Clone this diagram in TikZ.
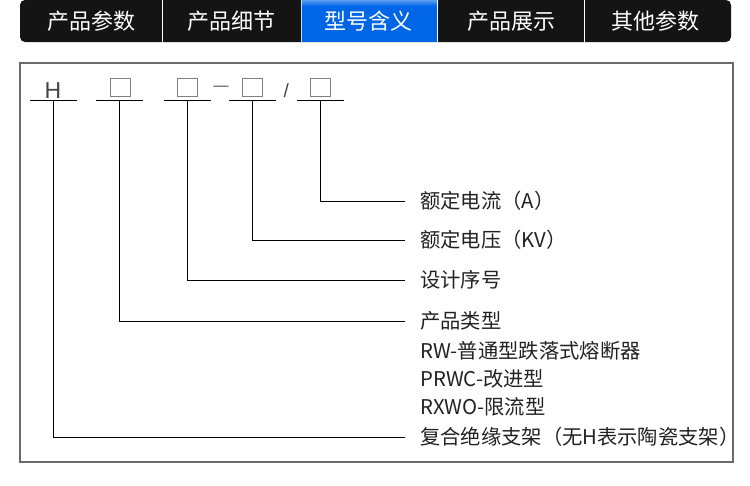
\documentclass[tikz,border=0pt]{standalone}
\usepackage{fontspec}
\setmainfont{Noto Sans CJK SC}
\newfontfamily\latinsans{Liberation Sans}
\definecolor{tabdark}{HTML}{141414}
\definecolor{tabblue}{HTML}{0066E6}
\definecolor{tabbluelight}{HTML}{5A9CF2}
\definecolor{framegray}{HTML}{6A6A6A}
\definecolor{boxgray}{HTML}{808080}
\definecolor{symgray}{HTML}{444444}
\definecolor{labeltext}{HTML}{222222}
\begin{document}
\begin{tikzpicture}[x=1pt,y=-1pt,
  tabtext/.style={text=white, font=\fontsize{22}{26}\selectfont, inner sep=0pt},
  slotbox/.style={draw=boxgray, line width=0.9pt, minimum width=20pt, minimum height=18.5pt, inner sep=0pt},
  segline/.style={minimum width=47pt, minimum height=0pt, inner sep=0pt, outer sep=0pt},
  uline/.style={black, line width=1pt},
  conn/.style={black, line width=1pt},
  lbl/.style={anchor=west, inner xsep=15pt, inner ysep=0pt, text=labeltext,
    font=\fontsize{20.3}{24}\selectfont, text height=16.4pt, text depth=1pt},
  symtext/.style={text=symgray, inner sep=0pt, anchor=base}
]
\useasboundingbox (0,0) rectangle (750,485);
\fill[white] (0,0) rectangle (750,485);

% tab bar
\fill[tabdark, rounded corners=5pt] (20,0) rectangle (731,42);
\fill[tabblue] (301,0) rectangle (438,42);
\shade[top color=tabbluelight, bottom color=tabblue] (301,0) rectangle (438,6);
\draw[white, line width=1pt] (162.5,0) -- (162.5,42);
\draw[white, line width=1pt] (584.5,0) -- (584.5,42);
\draw[white!75!tabblue, line width=1pt] (301.5,0) -- (301.5,42);
\draw[white, line width=1pt] (437.8,0) -- (437.8,42);
\node[tabtext] (t1) at (91,21) {产品参数};
\node[tabtext] (t2) at (231.5,21) {产品细节};
\node[tabtext] (t3) at (368.5,21) {型号含义};
\node[tabtext] (t4) at (511.5,21) {产品展示};
\node[tabtext] (t5) at (655,21) {其他参数};

% frame
\draw[framegray, line width=2pt] (20,62.8) rectangle (732.5,462);

% model code segments
\node[symtext, font=\latinsans\fontsize{23}{26}\selectfont] (h) at (53,98.3) {H};
\node[slotbox] (b1) at (120,87.3) {};
\node[slotbox] (b2) at (187,87.3) {};
\node[slotbox] (b3) at (252.8,87.3) {};
\node[slotbox] (b4) at (320,87.3) {};
\node[symtext, font=\latinsans\fontsize{15}{17}\selectfont] (dash) at (221,90.3) {—};
\node[symtext, font=\latinsans\fontsize{19}{21}\selectfont] (slash) at (286.3,97) {/};

\node[segline] (s1) at (53.5,100) {};
\node[segline] (s2) at (119.5,100) {};
\node[segline] (s3) at (187.5,100) {};
\node[segline] (s4) at (252.5,100) {};
\node[segline] (s5) at (320,100) {};
\foreach \s in {s1,s2,s3,s4,s5} \draw[uline] (\s.west) -- (\s.east);

% labels
\node[lbl] (l5) at (405,201) {额定电流（A）};
\node[lbl] (l4) at (405,240) {额定电压（KV）};
\node[lbl] (l3) at (405,280) {设计序号};
\node[lbl] (l2) at (405,321) {产品类型};
\node[lbl] (l2a) at (405,350.5) {RW-普通型跌落式熔断器};
\node[lbl] (l2b) at (405,378.5) {PRWC-改进型};
\node[lbl] (l2c) at (405,406.5) {RXWO-限流型};
\node[lbl] (l1) at (405,437) {复合绝缘支架（无H表示陶瓷支架）};

% connectors
\draw[conn] (s5.center) |- (l5.west);
\draw[conn] (s4.center) |- (l4.west);
\draw[conn] (s3.center) |- (l3.west);
\draw[conn] (s2.center) |- (l2.west);
\draw[conn] (s1.center) |- (l1.west);
\end{tikzpicture}
\end{document}
